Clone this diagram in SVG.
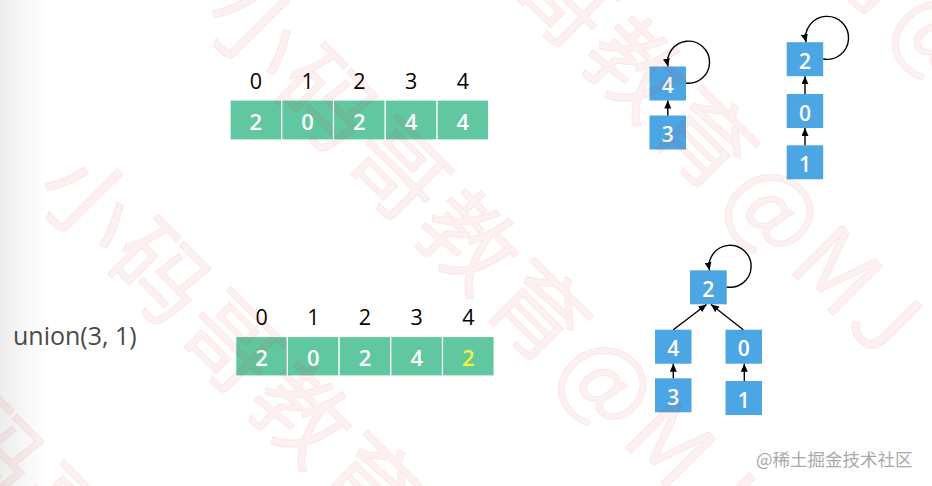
<svg xmlns="http://www.w3.org/2000/svg" width="932" height="486" viewBox="0 0 932 486">
<style>
.cell{fill:#60c7a0;stroke:#ffffff;stroke-width:1.2}
.node{fill:#4ca6e3}
.idx{font-family:"Open Sans","Liberation Sans",sans-serif;font-size:21.5px;fill:#000;text-anchor:middle}
.val{font-family:"Open Sans","Liberation Sans",sans-serif;font-size:22px;font-weight:600;fill:#fff;text-anchor:middle}
.nt{font-family:"Open Sans","Liberation Sans",sans-serif;font-size:21px;font-weight:600;fill:#fff;text-anchor:middle}
.edge{fill:none;stroke:#000;stroke-width:1.4;marker-end:url(#arr)}
.wm{font-family:"Noto Sans CJK SC","Noto Sans",sans-serif;font-size:95px;letter-spacing:5px;fill:#e03030;fill-opacity:0.07;stroke:#e03030;stroke-opacity:0.08;stroke-width:1}
</style>
<defs>
<linearGradient id="lg" x1="0" y1="0" x2="1" y2="0">
<stop offset="0" stop-color="#ececec"/>
<stop offset="1" stop-color="#ffffff"/>
</linearGradient>
<marker id="arr" viewBox="0 0 8 7" refX="8" refY="3.5" markerWidth="8" markerHeight="7" markerUnits="userSpaceOnUse" orient="auto">
<path d="M0,0 L8,3.5 L0,7 z" fill="#000"/>
</marker>
</defs>
<rect x="0" y="0" width="932" height="486" fill="#fff"/>
<rect x="0" y="0" width="45" height="486" fill="url(#lg)"/>

<g id="array-top">
<g id="top-cell-0"><rect class="cell" x="230" y="100" width="51.75" height="40"/><text class="idx" x="255.9" y="89">0</text><text class="val" x="255.9" y="129.5">2</text></g>
<g id="top-cell-1"><rect class="cell" x="281.75" y="100" width="51.75" height="40"/><text class="idx" x="307.6" y="89">1</text><text class="val" x="307.6" y="129.5">0</text></g>
<g id="top-cell-2"><rect class="cell" x="333.5" y="100" width="51.75" height="40"/><text class="idx" x="359.4" y="89">2</text><text class="val" x="359.4" y="129.5">2</text></g>
<g id="top-cell-3"><rect class="cell" x="385.25" y="100" width="51.75" height="40"/><text class="idx" x="411.1" y="89">3</text><text class="val" x="411.1" y="129.5">4</text></g>
<g id="top-cell-4"><rect class="cell" x="437" y="100" width="51.75" height="40"/><text class="idx" x="462.9" y="89">4</text><text class="val" x="462.9" y="129.5">4</text></g>
</g>

<text id="label-union" x="13" y="345" font-family="'Open Sans','Liberation Sans',sans-serif" font-size="25" fill="#4a4a4a">union(3, 1)</text>

<g id="array-bottom">
<g id="bot-cell-0"><rect class="cell" x="235.7" y="336.5" width="51.7" height="39.5"/><text class="idx" x="261.6" y="324.7">0</text><text class="val" x="261.6" y="366">2</text></g>
<g id="bot-cell-1"><rect class="cell" x="287.4" y="336.5" width="51.7" height="39.5"/><text class="idx" x="313.3" y="324.7">1</text><text class="val" x="313.3" y="366">0</text></g>
<g id="bot-cell-2"><rect class="cell" x="339.1" y="336.5" width="51.7" height="39.5"/><text class="idx" x="365" y="324.7">2</text><text class="val" x="365" y="366">2</text></g>
<g id="bot-cell-3"><rect class="cell" x="390.8" y="336.5" width="51.7" height="39.5"/><text class="idx" x="416.7" y="324.7">3</text><text class="val" x="416.7" y="366">4</text></g>
<g id="bot-cell-4"><rect class="cell" x="442.5" y="336.5" width="51.7" height="39.5"/><text class="idx" x="468.4" y="324.7">4</text><text class="val" x="468.4" y="366" style="fill:#f4f43a">2</text></g>
</g>

<g id="top-node-4"><rect class="node" x="649.5" y="66.5" width="36.5" height="34"/><text class="nt" x="667.8" y="93.2">4</text></g>
<g id="top-node-3"><rect class="node" x="649.5" y="115.5" width="36.5" height="34"/><text class="nt" x="667.8" y="142">3</text></g>
<g id="top-node-2"><rect class="node" x="786.7" y="42.2" width="36.5" height="34"/><text class="nt" x="805" y="68.7">2</text></g>
<g id="top-node-0"><rect class="node" x="786.7" y="94" width="36.5" height="34"/><text class="nt" x="805" y="120.5">0</text></g>
<g id="top-node-1"><rect class="node" x="786.7" y="145.3" width="36.5" height="34"/><text class="nt" x="805" y="171.8">1</text></g>

<g id="bot-node-2"><rect class="node" x="690" y="270.3" width="36.7" height="34"/><text class="nt" x="708.3" y="296.8">2</text></g>
<g id="bot-node-4"><rect class="node" x="655" y="329.7" width="36.5" height="34"/><text class="nt" x="673.3" y="356.2">4</text></g>
<g id="bot-node-0"><rect class="node" x="725.5" y="329.7" width="36.5" height="34"/><text class="nt" x="743.8" y="356.2">0</text></g>
<g id="bot-node-3"><rect class="node" x="655" y="378.3" width="36.5" height="34"/><text class="nt" x="673.3" y="404.8">3</text></g>
<g id="bot-node-1"><rect class="node" x="725.5" y="381" width="36.5" height="34"/><text class="nt" x="743.8" y="407.5">1</text></g>

<g id="connectors">
<path class="edge" d="M667.8,115.5 L667.8,100.5"/>
<path class="edge" d="M686,83 A21,21 0 1 0 668,66.5"/>
<path class="edge" d="M805,94 L805,76.2"/>
<path class="edge" d="M805,145.3 L805,128"/>
<path class="edge" d="M823.2,59 A21.5,21.5 0 1 0 806,42.2"/>
<path class="edge" d="M673.3,329.7 L706.5,304.5"/>
<path class="edge" d="M743.3,329.7 L711,304.5"/>
<path class="edge" d="M673.3,378.3 L673.3,363.7"/>
<path class="edge" d="M744.3,381 L744.3,363.7"/>
<path class="edge" d="M726.7,287 A21,21 0 1 0 709.5,270.3"/>
</g>

<g id="watermark">
<text class="wm" transform="translate(532,-326) rotate(45)">小码哥教育@MJ</text>
<text class="wm" transform="translate(365,-153) rotate(45)">小码哥教育@MJ</text>
<text class="wm" transform="translate(198,20) rotate(45)">小码哥教育@MJ</text>
<text class="wm" transform="translate(31,193) rotate(45)">小码哥教育@MJ</text>
<text class="wm" transform="translate(-136,366) rotate(45)">小码哥教育@MJ</text>
</g>
<text id="credit" x="756" y="466" font-family="'Noto Sans CJK SC','Noto Sans',sans-serif" font-size="17.5" fill="#a9a9a9">@稀土掘金技术社区</text>
</svg>
